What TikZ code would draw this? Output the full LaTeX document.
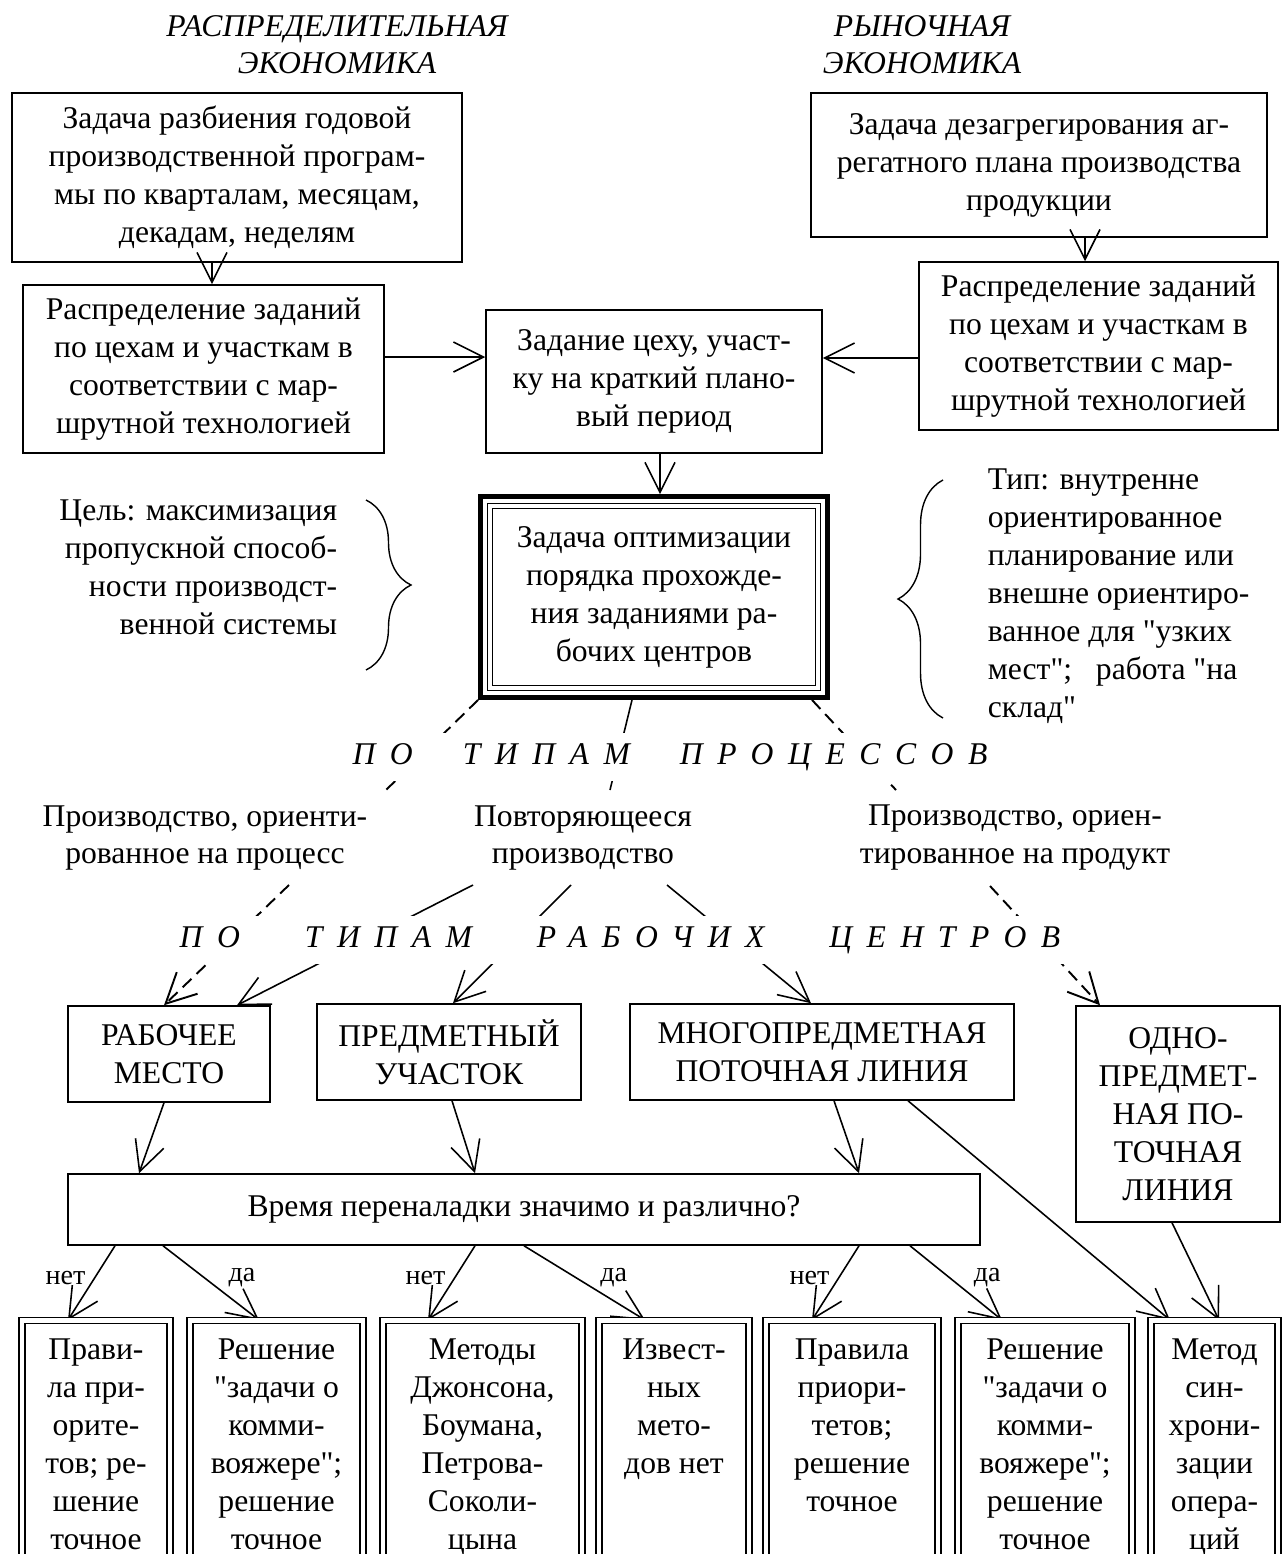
\documentclass[tikz,border=0pt]{standalone}
\usepackage{fontspec}
\setmainfont{Liberation Serif}[Ligatures=TeXOff]
\newfontfamily\trackfont[LetterSpace=46, Ligatures=TeXOff]{Liberation Serif}
\usetikzlibrary{arrows.meta,decorations.pathreplacing}
\tikzset{
    every node/.style={align=center, inner sep=2pt,
    	font=\fontsize{18pt}{21.6pt}\selectfont}
}
\tikzset{
    box/.style={draw, line width=0.9pt},
    dblbox/.style={draw, line width=0.8pt, double, double distance=2.6pt,
    	anchor=north, text depth=5.4cm, inner ysep=0.36cm},
    thickframe/.style={draw, line width=2.8pt},
    spaced/.style={fill=white, inner xsep=2pt, inner ysep=0.2cm,
    	font=\trackfont\fontsize{18pt}{21.6pt}\selectfont\itshape},
    nolabel/.style={left=1mm, font=\fontsize{16pt}{19pt}\selectfont},
    yeslabel/.style={right=4mm, font=\fontsize{16pt}{19pt}\selectfont}
}
\tikzset{
    every edge/.append style={line width=0.9pt},
    arr/.style={-{Straight Barb[length=0.6cm, width=0.6cm]}},
    dashln/.style={line width=1.1pt, dash pattern=on 7pt off 4pt},
    dasharr/.style={arr, dashln}
}
\pgfdeclarelayer{background}
\pgfsetlayers{background,main}

\begin{document}
\begin{tikzpicture}[x=0.02cm, y=-0.02cm]
  \useasboundingbox (0,0) rectangle (1284,1554);
  \node (plan) [font=\fontsize{18pt}{21pt}\selectfont\itshape] at (337, 45) {РАСПРЕДЕЛИТЕЛЬНАЯ\\ЭКОНОМИКА};
  \node (market) [font=\fontsize{18pt}{21pt}\selectfont\itshape] at (922, 45) {РЫНОЧНАЯ\\ЭКОНОМИКА};

  \node (split) [box, minimum width=9cm, minimum height=3.38cm] at (237, 177.5) {Задача разбиения годовой\\производственной програм-\\мы по кварталам, месяцам,\\декадам, неделям};
  \node (distl) [box, minimum width=7.22cm, minimum height=3.36cm] at (203.5, 369) {Распределение заданий\\по цехам и участкам в\\соответствии с мар-\\шрутной технологией};
  \node (shop) [box, minimum width=6.72cm, minimum height=2.86cm] at (654, 381.5) {Задание цеху, участ-\\ку на краткий плано-\\вый период};
  \node (disagg) [box, minimum width=9.12cm, minimum height=2.88cm] at (1039, 165) {Задача дезагрегирования аг-\\регатного плана производства\\продукции};
  \node (distr) [box, minimum width=7.18cm, minimum height=3.36cm] at (1098.5, 346) {Распределение заданий\\по цехам и участкам в\\соответствии с мар-\\шрутной технологией};

  \node (opt) [box, line width=0.6pt, double, double distance=2.3pt, minimum width=6.56cm, minimum height=3.64cm] at (654, 597) {Задача оптимизации\\порядка прохожде-\\ния заданиями ра-\\бочих центров};
  \node (optframe) [thickframe, minimum width=6.94cm, minimum height=4.02cm] at (opt.center) {};
  \node (goal) [anchor=east, align=right] at (341, 567) {Цель: максимизация\\пропускной способ-\\ности производст-\\венной системы};
  \node (kind) [anchor=west, align=left] at (984, 596) {Тип: внутренне\\ориентированное\\планирование или\\внешне ориентиро-\\ванное для "узких\\мест";\ \ \ работа "на\\склад"};
  \draw [decorate, decoration={brace, amplitude=0.9cm}, line width=0.8pt] (366, 500) -- (366, 670);
  \draw [decorate, decoration={brace, amplitude=0.9cm}, line width=0.8pt] (943, 718) -- (943, 480);

  \node (bytype1) [spaced] at (670, 757) {ПО\hspace{1cm}ТИПАМ\hspace{1cm}ПРОЦЕССОВ};
  \node (proc) at (205, 838) {Производство, ориенти-\\рованное на процесс};
  \node (rep) at (583, 838) {Повторяющееся\\производство};
  \node (prod) at (1015, 838) {Производство, ориен-\\тированное на продукт};
  \coordinate (procin) at (386, 790);
  \coordinate (repin) at (610, 790);
  \coordinate (prodin) at (896, 790);
  \coordinate (procout) at (289, 885);
  \coordinate (repa) at (473, 885);
  \coordinate (repb) at (571, 885);
  \coordinate (repc) at (667, 885);
  \coordinate (prodout) at (990, 886);

  \node (bytype2) [spaced] at (620, 940) {ПО\hspace{1.3cm}ТИПАМ\hspace{1.3cm}РАБОЧИХ\hspace{1.3cm}ЦЕНТРОВ};
  \node (work) [box, minimum width=4.04cm, minimum height=1.92cm] at (169, 1054) {РАБОЧЕЕ\\МЕСТО};
  \node (area) [box, minimum width=5.28cm, minimum height=1.92cm] at (449, 1052) {ПРЕДМЕТНЫЙ\\УЧАСТОК};
  \node (multi) [box, minimum width=7.68cm, minimum height=1.92cm] at (822, 1052) {МНОГОПРЕДМЕТНАЯ\\ПОТОЧНАЯ ЛИНИЯ};
  \node (single) [box, minimum width=4.08cm, minimum height=4.32cm] at (1178, 1114) {ОДНО-\\ПРЕДМЕТ-\\НАЯ ПО-\\ТОЧНАЯ\\ЛИНИЯ};
  \node (setup) [box, minimum width=18.24cm, minimum height=1.42cm] at (524, 1209.5) {Время переналадки значимо и различно?};

  \node (r1) [dblbox, minimum width=2.96cm] at (96, 1320) {Прави-\\ла при-\\орите-\\тов; ре-\\шение\\точное};
  \node (r2) [dblbox, minimum width=3.46cm] at (276.5, 1320) {Решение\\"задачи о\\комми-\\вояжере";\\решение\\точное};
  \node (r3) [dblbox, minimum width=3.98cm] at (482.5, 1320) {Методы\\Джонсона,\\Боумана,\\Петрова-\\Соколи-\\цына};
  \node (r4) [dblbox, minimum width=3cm] at (674, 1320) {Извест-\\ных\\мето-\\дов нет};
  \node (r5) [dblbox, minimum width=3.44cm] at (852, 1320) {Правила\\приори-\\тетов;\\решение\\точное};
  \node (r6) [dblbox, minimum width=3.48cm] at (1045, 1320) {Решение\\"задачи о\\комми-\\вояжере";\\решение\\точное};
  \node (r7) [dblbox, minimum width=2.54cm] at (1214.5, 1320) {Метод\\син-\\хрони-\\зации\\опера-\\ций};

  \begin{pgfonlayer}{background}
  \draw (212,0 |- split.south) edge [arr] (212,0 |- distl.north);
  \draw (distl.east |- 0,357) edge [arr] (shop.west |- 0,357);
  \draw (1085,0 |- disagg.south) edge [arr] (1085,0 |- distr.north);
  \draw (distr.west |- 0,358) edge [arr] (shop.east |- 0,358);
  \draw (660,0 |- shop.south) edge [arr] (660,0 |- optframe.north);

  \draw (optframe.south west) edge [dashln] (procin); \draw (632,0 |- optframe.south) edge (repin);
  \draw (812,0 |- optframe.south) edge [dashln] (prodin);

  \draw (procout) edge [dasharr] (164,0 |- work.north); \draw (repa) edge [arr] (237,0 |- work.north);
  \draw (repb) edge [arr] (453,0 |- area.north); \draw (repc) edge [arr] (811,0 |- multi.north);
  \draw (prodout) edge [dasharr] (1100,0 |- single.north);

  \draw (164,0 |- work.south) edge [arr] (139,0 |- setup.north);
  \draw (452,0 |- area.south) edge [arr] (475,0 |- setup.north);
  \draw (834,0 |- multi.south) edge [arr] (859,0 |- setup.north);
  \draw (908,0 |- multi.south) edge [arr] (1170,0 |- r7.north);
  \draw (1172,0 |- single.south) edge [arr] (1219,0 |- r7.north);

  \draw (115,0 |- setup.south) edge [arr] node [nolabel, pos=.43] {нет} (68,0 |- r1.north);
  \draw (163,0 |- setup.south) edge [arr] node [yeslabel, pos=.43] {да} (259,0 |- r2.north);
  \draw (475,0 |- setup.south) edge [arr] node [nolabel, pos=.43] {нет} (428,0 |- r3.north);
  \draw (524,0 |- setup.south) edge [arr] node [yeslabel, pos=.43] {да} (645,0 |- r4.north);
  \draw (859,0 |- setup.south) edge [arr] node [nolabel, pos=.43] {нет} (812,0 |- r5.north);
  \draw (910,0 |- setup.south) edge [arr] node [yeslabel, pos=.43] {да} (1002,0 |- r6.north);
  \end{pgfonlayer}
\end{tikzpicture}
\end{document}
